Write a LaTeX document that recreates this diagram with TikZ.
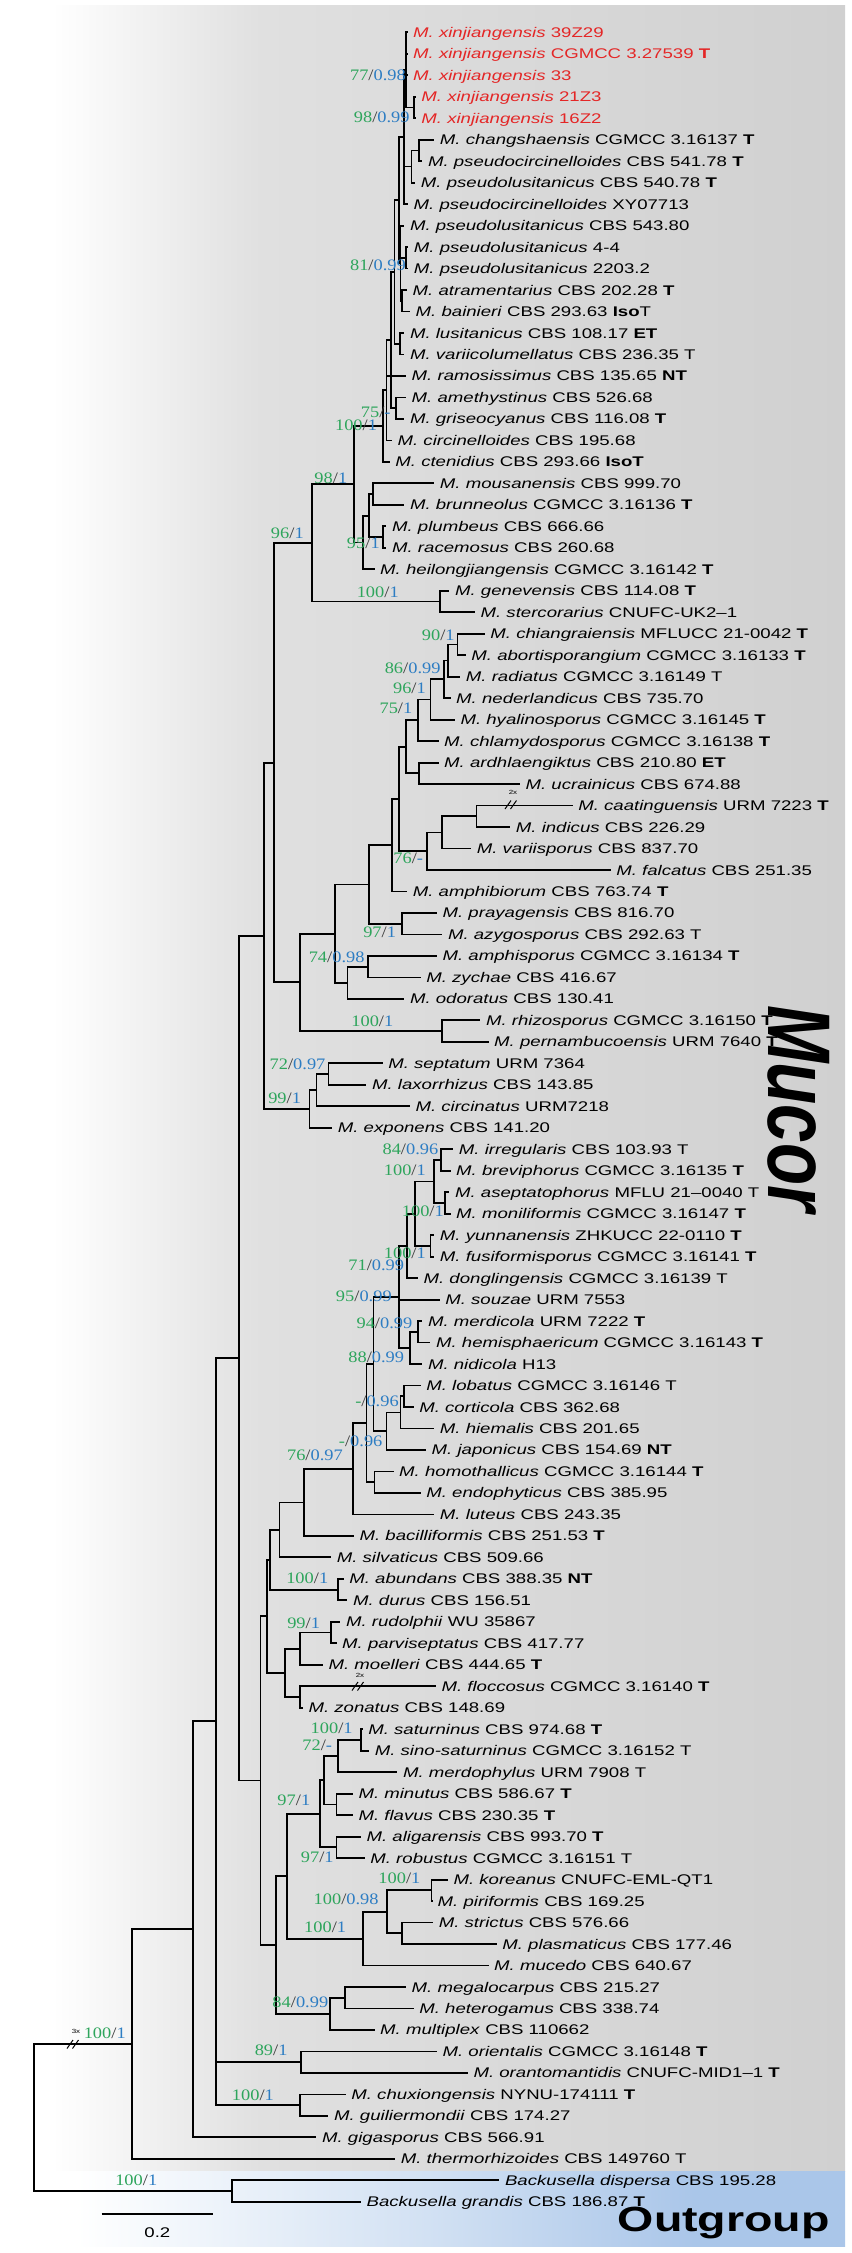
\documentclass[tikz,border=0pt]{standalone}
\usepackage{fontspec}
\newfontfamily\taxfont[FakeStretch=1.33]{Liberation Sans}
\newfontfamily\supfont[FakeStretch=1.15]{Liberation Serif}
\newfontfamily\bigsans{Liberation Sans}
\definecolor{xjred}{RGB}{228,38,38}
\definecolor{bsg}{RGB}{46,165,92}
\definecolor{ppb}{RGB}{45,125,195}
\definecolor{slashc}{RGB}{60,60,60}
\definecolor{bgga}{RGB}{224,224,224}
\definecolor{bggb}{RGB}{208,208,208}
\definecolor{bgba}{RGB}{210,225,243}
\definecolor{bgbb}{RGB}{170,198,233}
\pgfdeclarehorizontalshading{graybg}{100bp}{color(0bp)=(white); color(25bp)=(white); color(27.5bp)=(white); color(40bp)=(bgga); color(75bp)=(bggb); color(100bp)=(bggb)}
\pgfdeclarehorizontalshading{bluebg}{100bp}{color(0bp)=(white); color(25bp)=(white); color(29bp)=(white); color(50bp)=(bgba); color(66bp)=(bgbb); color(100bp)=(bgbb)}
\pgfmathdeclarefunction{ky}{1}{\pgfmathparse{32.3+(#1-1)*21.48}}
\newcommand\spn[1]{\textit{#1}}
\newcommand\tyb[1]{\textbf{#1}}
\newcommand\Lf[3]{\coordinate (t#1) at (#2,{ky(#1)}); \node[taxon] (l#1) at (t#1) {#3};}
\newcommand\RLf[3]{\coordinate (t#1) at (#2,{ky(#1)}); \node[taxon,text=xjred] (l#1) at (t#1) {#3};}
\newcommand\INode[3]{\coordinate (#1) at (#2,{ky(#3)});}
\newcommand\Kids[2]{\foreach \kd in {#2}{\draw[branch] (#1) |- (\kd);}}
\newcommand\Sup[5]{\node[suplab] (#1) at (#2,#3) {\textcolor{bsg}{#4}\textcolor{slashc}{/}\textcolor{ppb}{#5}};}
\tikzset{
  branch/.style={line width=1.8pt, line join=miter},
  taxon/.style={anchor=west, inner sep=0pt, xshift=5.5pt, text height=10pt, text depth=0pt, font=\taxfont\fontsize{14}{15}\selectfont},
  suplab/.style={anchor=east, inner sep=0pt, text height=10.8pt, text depth=0pt, font=\supfont\fontsize{16}{16}\selectfont},
  brk/.style={line width=1pt},
  tinylab/.style={inner sep=0pt, font=\taxfont\fontsize{6}{6}\selectfont}
}
\begin{document}
\begin{tikzpicture}[x=1pt,y=-1pt]
\useasboundingbox (0,0) rectangle (851,2253);
% backgrounds
\shade[shading=graybg] (10,6) rectangle (845,2171.7);
\shade[shading=bluebg] (10,2171.7) rectangle (845,2246.7);
\node[inner sep=0pt] (mucor) at (799,1108.5) {\scalebox{1.29}[1]{\rotatebox{-90}{\bigsans\bfseries\itshape\fontsize{69}{69}\selectfont Mucor}}};
\node[anchor=base east, inner sep=0pt, font=\taxfont\bfseries\fontsize{35}{35}\selectfont] (outg) at (830,2231.7) {Outgroup};
% leaves
\RLf{1}{407.5}{\spn{M. xinjiangensis} 39Z29}
\RLf{2}{407.5}{\spn{M. xinjiangensis} CGMCC 3.27539 \tyb{T}}
\RLf{3}{407.5}{\spn{M. xinjiangensis} 33}
\RLf{4}{415.7}{\spn{M. xinjiangensis} 21Z3}
\RLf{5}{415.7}{\spn{M. xinjiangensis} 16Z2}
\Lf{6}{434.2}{\spn{M. changshaensis} CGMCC 3.16137 \tyb{T}}
\Lf{7}{422.3}{\spn{M. pseudocircinelloides} CBS 541.78 \tyb{T}}
\Lf{8}{415.2}{\spn{M. pseudolusitanicus} CBS 540.78 \tyb{T}}
\Lf{9}{408.0}{\spn{M. pseudocircinelloides} XY07713}
\Lf{10}{404.3}{\spn{M. pseudolusitanicus} CBS 543.80}
\Lf{11}{408.2}{\spn{M. pseudolusitanicus} 4-4}
\Lf{12}{408.2}{\spn{M. pseudolusitanicus} 2203.2}
\Lf{13}{407.0}{\spn{M. atramentarius} CBS 202.28 \tyb{T}}
\Lf{14}{410.0}{\spn{M. bainieri} CBS 293.63 \tyb{Iso}T}
\Lf{15}{404.3}{\spn{M. lusitanicus} CBS 108.17 \tyb{ET}}
\Lf{16}{404.3}{\spn{M. variicolumellatus} CBS 236.35 T}
\Lf{17}{406.0}{\spn{M. ramosissimus} CBS 135.65 \tyb{NT}}
\Lf{18}{406.0}{\spn{M. amethystinus} CBS 526.68}
\Lf{19}{404.3}{\spn{M. griseocyanus} CBS 116.08 \tyb{T}}
\Lf{20}{391.9}{\spn{M. circinelloides} CBS 195.68}
\Lf{21}{389.7}{\spn{M. ctenidius} CBS 293.66 \tyb{IsoT}}
\Lf{22}{434.2}{\spn{M. mousanensis} CBS 999.70}
\Lf{23}{404.3}{\spn{M. brunneolus} CGMCC 3.16136 \tyb{T}}
\Lf{24}{386.4}{\spn{M. plumbeus} CBS 666.66}
\Lf{25}{386.4}{\spn{M. racemosus} CBS 260.68}
\Lf{26}{374.5}{\spn{M. heilongjiangensis} CGMCC 3.16142 \tyb{T}}
\Lf{27}{449.4}{\spn{M. genevensis} CBS 114.08 \tyb{T}}
\Lf{28}{474.9}{\spn{M. stercorarius} CNUFC-UK2–1}
\Lf{29}{484.7}{\spn{M. chiangraiensis} MFLUCC 21-0042 \tyb{T}}
\Lf{30}{465.7}{\spn{M. abortisporangium} CGMCC 3.16133 \tyb{T}}
\Lf{31}{460.2}{\spn{M. radiatus} CGMCC 3.16149 T}
\Lf{32}{450.5}{\spn{M. nederlandicus} CBS 735.70}
\Lf{33}{454.8}{\spn{M. hyalinosporus} CGMCC 3.16145 \tyb{T}}
\Lf{34}{438.5}{\spn{M. chlamydosporus} CGMCC 3.16138 \tyb{T}}
\Lf{35}{438.5}{\spn{M. ardhlaengiktus} CBS 210.80 \tyb{ET}}
\Lf{36}{519.9}{\spn{M. ucrainicus} CBS 674.88}
\Lf{37}{572.6}{\spn{M. caatinguensis} URM 7223 \tyb{T}}
\Lf{38}{510.2}{\spn{M. indicus} CBS 226.29}
\Lf{39}{471.1}{\spn{M. variisporus} CBS 837.70}
\Lf{40}{610.6}{\spn{M. falcatus} CBS 251.35}
\Lf{41}{407.1}{\spn{M. amphibiorum} CBS 763.74 \tyb{T}}
\Lf{42}{436.9}{\spn{M. prayagensis} CBS 816.70}
\Lf{43}{442.3}{\spn{M. azygosporus} CBS 292.63 T}
\Lf{44}{436.9}{\spn{M. amphisporus} CGMCC 3.16134 \tyb{T}}
\Lf{45}{420.6}{\spn{M. zychae} CBS 416.67}
\Lf{46}{404.3}{\spn{M. odoratus} CBS 130.41}
\Lf{47}{480.3}{\spn{M. rhizosporus} CGMCC 3.16150 \tyb{T}}
\Lf{48}{488.5}{\spn{M. pernambucoensis} URM 7640 \tyb{T}}
\Lf{49}{382.6}{\spn{M. septatum} URM 7364}
\Lf{50}{366.4}{\spn{M. laxorrhizus} CBS 143.85}
\Lf{51}{409.8}{\spn{M. circinatus} URM7218}
\Lf{52}{332.2}{\spn{M. exponens} CBS 141.20}
\Lf{53}{453.2}{\spn{M. irregularis} CBS 103.93 T}
\Lf{54}{450.5}{\spn{M. breviphorus} CGMCC 3.16135 \tyb{T}}
\Lf{55}{449.4}{\spn{M. aseptatophorus} MFLU 21–0040 T}
\Lf{56}{450.5}{\spn{M. moniliformis} CGMCC 3.16147 \tyb{T}}
\Lf{57}{434.2}{\spn{M. yunnanensis} ZHKUCC 22-0110 \tyb{T}}
\Lf{58}{434.2}{\spn{M. fusiformisporus} CGMCC 3.16141 \tyb{T}}
\Lf{59}{417.9}{\spn{M. donglingensis} CGMCC 3.16139 T}
\Lf{60}{439.6}{\spn{M. souzae} URM 7553}
\Lf{61}{422.3}{\spn{M. merdicola} URM 7222 \tyb{T}}
\Lf{62}{430.4}{\spn{M. hemisphaericum} CGMCC 3.16143 \tyb{T}}
\Lf{63}{422.3}{\spn{M. nidicola} H13}
\Lf{64}{420.6}{\spn{M. lobatus} CGMCC 3.16146 T}
\Lf{65}{413.6}{\spn{M. corticola} CBS 362.68}
\Lf{66}{434.2}{\spn{M. hiemalis} CBS 201.65}
\Lf{67}{426.0}{\spn{M. japonicus} CBS 154.69 \tyb{NT}}
\Lf{68}{393.5}{\spn{M. homothallicus} CGMCC 3.16144 \tyb{T}}
\Lf{69}{420.6}{\spn{M. endophyticus} CBS 385.95}
\Lf{70}{434.2}{\spn{M. luteus} CBS 243.35}
\Lf{71}{353.9}{\spn{M. bacilliformis} CBS 251.53 \tyb{T}}
\Lf{72}{331.1}{\spn{M. silvaticus} CBS 509.66}
\Lf{73}{343.6}{\spn{M. abundans} CBS 388.35 \tyb{NT}}
\Lf{74}{347.4}{\spn{M. durus} CBS 156.51}
\Lf{75}{340.3}{\spn{M. rudolphii} WU 35867}
\Lf{76}{336.5}{\spn{M. parviseptatus} CBS 417.77}
\Lf{77}{322.9}{\spn{M. moelleri} CBS 444.65 \tyb{T}}
\Lf{78}{435.8}{\spn{M. floccosus} CGMCC 3.16140 \tyb{T}}
\Lf{79}{302.8}{\spn{M. zonatus} CBS 148.69}
\Lf{80}{362.6}{\spn{M. saturninus} CBS 974.68 \tyb{T}}
\Lf{81}{369.1}{\spn{M. sino-saturninus} CGMCC 3.16152 T}
\Lf{82}{397.3}{\spn{M. merdophylus} URM 7908 T}
\Lf{83}{352.8}{\spn{M. minutus} CBS 586.67 \tyb{T}}
\Lf{84}{352.8}{\spn{M. flavus} CBS 230.35 \tyb{T}}
\Lf{85}{360.9}{\spn{M. aligarensis} CBS 993.70 \tyb{T}}
\Lf{86}{364.7}{\spn{M. robustus} CGMCC 3.16151 T}
\Lf{87}{447.8}{\spn{M. koreanus} CNUFC-EML-QT1}
\Lf{88}{432.0}{\spn{M. piriformis} CBS 169.25}
\Lf{89}{433.1}{\spn{M. strictus} CBS 576.66}
\Lf{90}{496.6}{\spn{M. plasmaticus} CBS 177.46}
\Lf{91}{488.5}{\spn{M. mucedo} CBS 640.67}
\Lf{92}{406.0}{\spn{M. megalocarpus} CBS 215.27}
\Lf{93}{413.6}{\spn{M. heterogamus} CBS 338.74}
\Lf{94}{374.5}{\spn{M. multiplex} CBS 110662}
\Lf{95}{436.9}{\spn{M. orientalis} CGMCC 3.16148 \tyb{T}}
\Lf{96}{467.8}{\spn{M. orantomantidis} CNUFC-MID1–1 \tyb{T}}
\Lf{97}{345.7}{\spn{M. chuxiongensis} NYNU-174111 \tyb{T}}
\Lf{98}{328.4}{\spn{M. guiliermondii} CBS 174.27}
\Lf{99}{316.4}{\spn{M. gigasporus} CBS 566.91}
\Lf{100}{395.1}{\spn{M. thermorhizoides} CBS 149760 T}
\Lf{101}{499.3}{\spn{Backusella dispersa} CBS 195.28}
\Lf{102}{360.9}{\spn{Backusella grandis} CBS 186.87 \tyb{T}}
% internal nodes
\INode{P1}{406.0}{2.75}
\INode{B45}{413.6}{4.5}
\INode{N67}{419.0}{6.5}
\INode{P2}{411.4}{7.25}
\INode{P3}{404.3}{5.875}
\INode{N1112}{406.0}{11.5}
\INode{N1314}{401.6}{13.5}
\INode{N81}{400.5}{11.75}
\INode{S1}{398.9}{8.8125}
\INode{N1516}{400.0}{15.5}
\INode{S2}{394.5}{12.156}
\INode{N1819}{396.2}{18.5}
\INode{N75}{390.8}{15.33}
\INode{N237}{386.4}{17.66}
\INode{N100}{382.6}{19.33}
\INode{N2223}{372.9}{22.5}
\INode{N2425}{382.6}{24.5}
\INode{N2225}{369.1}{23.5}
\INode{N2226}{362.6}{24.75}
\INode{N98}{353.9}{22.04}
\INode{Ngen}{439.6}{27.5}
\INode{N96}{312.1}{24.77}
\INode{N2930}{457.5}{29.5}
\INode{N86}{447.8}{30.25}
\INode{N96b}{444.0}{31.125}
\INode{N75b}{430.4}{32.06}
\INode{Nc}{417.9}{33.03}
\INode{N3536}{419.0}{35.5}
\INode{Nd}{406.0}{34.27}
\INode{N3738}{476.5}{37.5}
\INode{N3739}{442.3}{38.25}
\INode{N76}{427.1}{39.125}
\INode{N245}{398.9}{36.7}
\INode{N240}{391.9}{38.85}
\INode{N4243}{401.6}{42.5}
\INode{N226}{369.1}{40.67}
\INode{N4445}{368.0}{44.5}
\INode{N4446}{347.4}{45.25}
\INode{N205}{334.9}{42.96}
\INode{N4748}{442.3}{47.5}
\INode{N184}{300.1}{45.23}
\INode{N168}{274.1}{35.0}
\INode{N4950}{328.4}{49.5}
\INode{N4951}{316.4}{50.25}
\INode{N4952}{309.4}{51.125}
\INode{N162}{264.3}{43.06}
\INode{N5354}{440.7}{53.5}
\INode{N5556}{445.0}{55.5}
\INode{N5356}{434.2}{54.5}
\INode{N5758}{430.4}{57.5}
\INode{N5358}{415.2}{56}
\INode{N71}{407.1}{57.5}
\INode{N6162}{417.9}{61.5}
\INode{N6163}{409.8}{62.25}
\INode{N95}{398.9}{59.875}
\INode{N6465}{404.3}{64.5}
\INode{N6466}{400.5}{65.25}
\INode{N6467}{386.4}{66.125}
\INode{N88}{373.4}{63}
\INode{N6869}{374.5}{68.5}
\INode{N225}{366.4}{65.75}
\INode{N216}{352.8}{67.875}
\INode{N186}{303.9}{69.44}
\INode{N171}{279.5}{70.72}
\INode{N7374}{337.6}{73.5}
\INode{N165}{269.7}{72.11}
\INode{N7576}{331.1}{75.5}
\INode{N7577}{300.1}{76.25}
\INode{N7879}{300.1}{78.5}
\INode{N175}{284.9}{77.375}
\INode{N164}{267.0}{74.74}
\INode{N8081}{360.9}{80.5}
\INode{N8082}{337.6}{81.25}
\INode{N8384}{336.5}{83.5}
\INode{N8084}{324.0}{82.375}
\INode{N8586}{336.5}{85.5}
\INode{N8086}{320.2}{83.94}
\INode{N8788}{431.5}{87.5}
\INode{N8990}{401.6}{89.5}
\INode{N8790}{387.0}{88.5}
\INode{N8791}{362.6}{89.75}
\INode{N8091}{286.6}{86.84}
\INode{N9293}{344.6}{92.5}
\INode{N9294}{330.0}{93.25}
\INode{N169}{275.7}{90.05}
\INode{N160}{260.5}{82.39}
\INode{N146}{238.8}{62.73}
\INode{N9596}{301.2}{95.5}
\INode{N9798}{300.1}{97.5}
\INode{Nb}{216.0}{96.5}
\INode{Na}{216.0}{79.6}
\INode{N118}{192.7}{89.3}
\INode{NMuc}{131.9}{94.65}
\INode{NBack}{231.7}{101.5}
\INode{Root}{33.6}{98.07}
% branches
\Kids{P1}{t1,t2,t3,B45}
\Kids{B45}{t4,t5}
\Kids{N67}{t6,t7}
\Kids{P2}{N67,t8}
\Kids{P3}{P1,P2,t9}
\Kids{N1112}{t11,t12}
\Kids{N1314}{t13,t14}
\Kids{N81}{t10,N1112,N1314}
\Kids{S1}{P3,N81}
\Kids{N1516}{t15,t16}
\Kids{S2}{S1,N1516}
\Kids{N1819}{t18,t19}
\Kids{N75}{S2,N1819}
\Kids{N237}{N75,t17,t20}
\Kids{N100}{N237,t21}
\Kids{N2223}{t22,t23}
\Kids{N2425}{t24,t25}
\Kids{N2225}{N2223,N2425}
\Kids{N2226}{N2225,t26}
\Kids{N98}{N100,N2226}
\Kids{Ngen}{t27,t28}
\Kids{N96}{N98,Ngen}
\Kids{N2930}{t29,t30}
\Kids{N86}{N2930,t31}
\Kids{N96b}{N86,t32}
\Kids{N75b}{N96b,t33}
\Kids{Nc}{N75b,t34}
\Kids{N3536}{t35,t36}
\Kids{Nd}{Nc,N3536}
\Kids{N3738}{t37,t38}
\Kids{N3739}{N3738,t39}
\Kids{N76}{N3739,t40}
\Kids{N245}{Nd,N76}
\Kids{N240}{N245,t41}
\Kids{N4243}{t42,t43}
\Kids{N226}{N240,N4243}
\Kids{N4445}{t44,t45}
\Kids{N4446}{N4445,t46}
\Kids{N205}{N226,N4446}
\Kids{N4748}{t47,t48}
\Kids{N184}{N205,N4748}
\Kids{N168}{N96,N184}
\Kids{N4950}{t49,t50}
\Kids{N4951}{N4950,t51}
\Kids{N4952}{N4951,t52}
\Kids{N162}{N168,N4952}
\Kids{N5354}{t53,t54}
\Kids{N5556}{t55,t56}
\Kids{N5356}{N5354,N5556}
\Kids{N5758}{t57,t58}
\Kids{N5358}{N5356,N5758}
\Kids{N71}{N5358,t59}
\Kids{N6162}{t61,t62}
\Kids{N6163}{N6162,t63}
\Kids{N95}{N71,t60,N6163}
\Kids{N6465}{t64,t65}
\Kids{N6466}{N6465,t66}
\Kids{N6467}{N6466,t67}
\Kids{N88}{N95,N6467}
\Kids{N6869}{t68,t69}
\Kids{N225}{N88,N6869}
\Kids{N216}{N225,t70}
\Kids{N186}{N216,t71}
\Kids{N171}{N186,t72}
\Kids{N7374}{t73,t74}
\Kids{N165}{N171,N7374}
\Kids{N7576}{t75,t76}
\Kids{N7577}{N7576,t77}
\Kids{N7879}{t78,t79}
\Kids{N175}{N7577,N7879}
\Kids{N164}{N165,N175}
\Kids{N8081}{t80,t81}
\Kids{N8082}{N8081,t82}
\Kids{N8384}{t83,t84}
\Kids{N8084}{N8082,N8384}
\Kids{N8586}{t85,t86}
\Kids{N8086}{N8084,N8586}
\Kids{N8788}{t87,t88}
\Kids{N8990}{t89,t90}
\Kids{N8790}{N8788,N8990}
\Kids{N8791}{N8790,t91}
\Kids{N8091}{N8086,N8791}
\Kids{N9293}{t92,t93}
\Kids{N9294}{N9293,t94}
\Kids{N169}{N8091,N9294}
\Kids{N160}{N164,N169}
\Kids{N146}{N162,N160}
\Kids{N9596}{t95,t96}
\Kids{N9798}{t97,t98}
\Kids{Nb}{N9596,N9798}
\Kids{Na}{N146,Nb}
\Kids{N118}{Na,t99}
\Kids{NMuc}{N118,t100}
\Kids{NBack}{t101,t102}
\Kids{Root}{NMuc,NBack}
% branch breaks
\draw[brk] (505,809) -- (511,800.5) (510.5,809) -- (516.5,800.5);
\node[tinylab] (x2a) at (513,792.5) {2x};
\draw[brk] (352,1690.5) -- (358,1682) (357.5,1690.5) -- (363.5,1682);
\node[tinylab] (x2b) at (360,1675) {2x};
\draw[brk] (67,2048.5) -- (73,2040) (72.5,2048.5) -- (78.5,2040);
\node[tinylab] (x3) at (76,2031.5) {3x};
% support values
\Sup{s1}{406.0}{75.3}{77}{0.98}
\Sup{s2}{409.8}{116.7}{98}{0.99}
\Sup{s3}{406.0}{265}{81}{0.99}
\Sup{s4}{390.8}{411.7}{75}{-}
\Sup{s5}{377.2}{425}{100}{1}
\Sup{s6}{347.4}{478.3}{98}{1}
\Sup{s7}{303.9}{533.3}{96}{1}
\Sup{s8}{379.9}{543.3}{95}{1}
\Sup{s9}{398.9}{591.7}{100}{1}
\Sup{s10}{454.8}{635}{90}{1}
\Sup{s11}{440.7}{668.3}{86}{0.99}
\Sup{s12}{426.0}{688.3}{96}{1}
\Sup{s13}{412.5}{708.3}{75}{1}
\Sup{s14}{423.3}{858.3}{76}{-}
\Sup{s15}{396.2}{932.3}{97}{1}
\Sup{s16}{364.7}{956.7}{74}{0.98}
\Sup{s17}{393.5}{1020.7}{100}{1}
\Sup{s18}{325.6}{1064.3}{72}{0.97}
\Sup{s19}{301.2}{1097.7}{99}{1}
\Sup{s20}{438.5}{1149.3}{84}{0.96}
\Sup{s21}{426.0}{1170}{100}{1}
\Sup{s22}{444.0}{1210.7}{100}{1}
\Sup{s23}{426.0}{1253.3}{100}{1}
\Sup{s24}{404.3}{1265}{71}{0.99}
\Sup{s25}{391.9}{1296}{95}{0.99}
\Sup{s26}{412.5}{1323.3}{94}{0.99}
\Sup{s27}{404.3}{1356.7}{88}{0.99}
\Sup{s28}{398.9}{1401}{-}{0.96}
\Sup{s29}{382.6}{1440.7}{-}{0.96}
\Sup{s30}{343.0}{1455}{76}{0.97}
\Sup{s31}{328.4}{1578.3}{100}{1}
\Sup{s32}{320.2}{1622.7}{99}{1}
\Sup{s33}{352.8}{1727.7}{100}{1}
\Sup{s34}{332.2}{1745}{72}{-}
\Sup{s35}{310.4}{1800}{97}{1}
\Sup{s36}{333.8}{1857.3}{97}{1}
\Sup{s37}{420.6}{1878.3}{100}{1}
\Sup{s38}{378.8}{1899.3}{100}{0.98}
\Sup{s39}{346.3}{1927.3}{100}{1}
\Sup{s40}{328.4}{2001.7}{84}{0.99}
\Sup{s41}{125.9}{2032.7}{100}{1}
\Sup{s42}{287.7}{2050}{89}{1}
\Sup{s43}{274.1}{2095}{100}{1}
\Sup{s44}{157.4}{2180}{100}{1}
% scale bar
\coordinate (sba) at (101.5,2214);
\coordinate (sbb) at (213.3,2214);
\draw[branch] (sba) -- (sbb);
\node[inner sep=0pt, font=\taxfont\fontsize{14}{15}\selectfont] (sbl) at (157.4,2232.7) {0.2};
\end{tikzpicture}
\end{document}
